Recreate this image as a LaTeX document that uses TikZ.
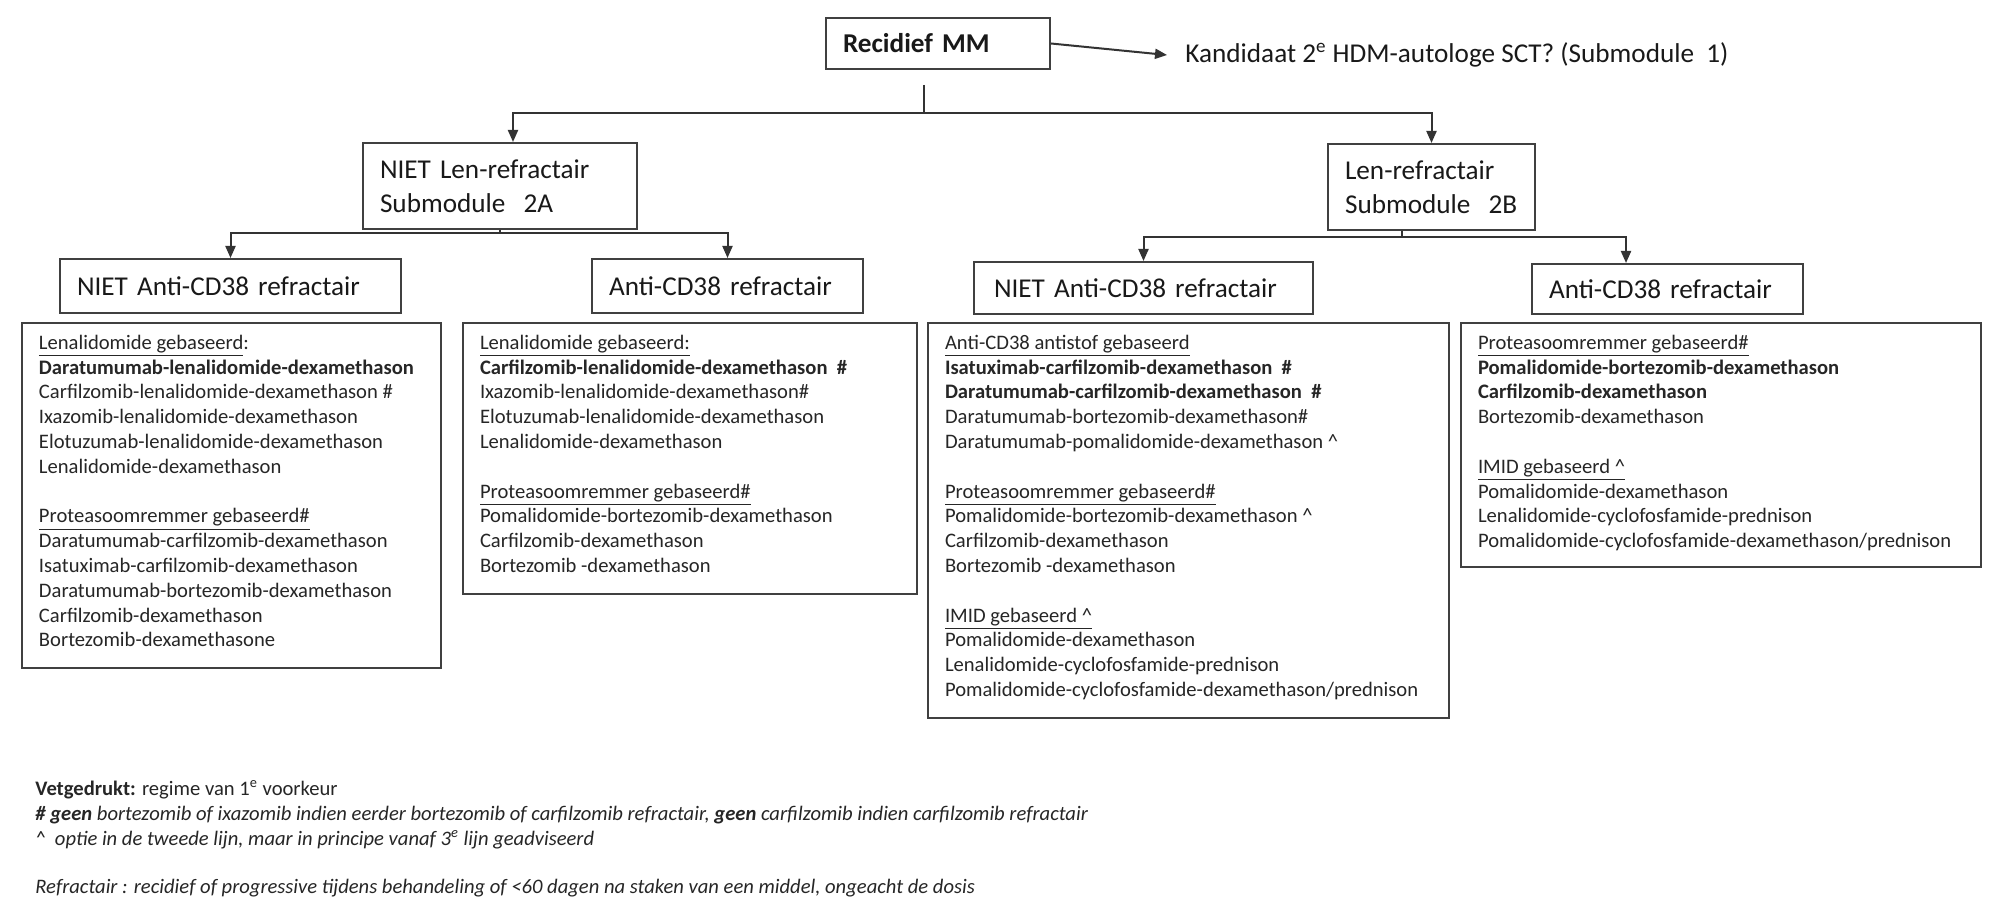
\documentclass[tikz,border=0pt]{standalone}
\usepackage{fontspec}
\setmainfont{Carlito}
\usetikzlibrary{arrows.meta,calc}
\newcommand\hdsize{\fontsize{13.6pt}{16.8pt}\selectfont}
\newcommand\bdsize{\fontsize{10.3pt}{12.4pt}\selectfont}
\newcommand\myul[1]{\underline{#1}}
\newcommand\caret{\textasciicircum}
\begin{document}
\begin{tikzpicture}[x=0.5pt,y=-0.5pt,
  line/.style={draw=black!80, line width=1pt},
  arr/.style={line, -{Triangle[length=6pt,width=5pt]}},
  hbox/.style={draw=black!75, line width=1pt, anchor=north west, align=left, inner xsep=8.5pt, inner ysep=0pt, font=\hdsize, text=black!90},
  cbox/.style={draw=black!75, line width=1pt, anchor=north west, inner xsep=8.5pt, inner ysep=6pt, font=\bdsize, text=black!85},
  foot/.style={anchor=base west, inner sep=0pt, font=\bdsize, text=black!85}
]
\useasboundingbox[fill=white] (0,0) rectangle (2000,919);

% header boxes
\node[hbox, text width=95pt, minimum height=25.5pt] (rec) at (825,17) {\textbf{Recidief MM}};
\node[anchor=west, inner xsep=9pt, inner ysep=0pt, font=\hdsize, text=black!90] (kand) at (1167,55)
  {Kandidaat 2\textsuperscript{e} HDM-autologe SCT? (Submodule\ \ 1)};
\node[hbox, text width=120pt, minimum height=43pt] (l2a) at (362,142) {NIET Len-refractair\\Submodule\ \ 2A};
\node[hbox, text width=86.5pt, minimum height=43pt] (l2b) at (1327,143) {Len-refractair\\Submodule\ \ 2B};
\node[hbox, text width=153.5pt, minimum height=27pt] (a1) at (59,258) {NIET Anti-CD38 refractair};
\node[hbox, text width=118.5pt, minimum height=27pt] (a2) at (591,258) {Anti-CD38 refractair};
\node[hbox, text width=149.5pt, minimum height=26pt, inner xsep=10pt] (a3) at (973,261) {NIET Anti-CD38 refractair};
\node[hbox, text width=118.5pt, minimum height=25pt] (a4) at (1531,263) {Anti-CD38 refractair};

% content boxes
\node[cbox] (b1) at (21,322) {\parbox[t][160.5pt][t]{192.5pt}{\raggedright
\myul{Lenalidomide gebaseerd}:\\
\textbf{Daratumumab-lenalidomide-dexamethason}\\
Carfilzomib-lenalidomide-dexamethason \#\\
Ixazomib-lenalidomide-dexamethason\\
Elotuzumab-lenalidomide-dexamethason\\
Lenalidomide-dexamethason\\[12.4pt]
\myul{Proteasoomremmer gebaseerd\#}\\
Daratumumab-carfilzomib-dexamethason\\
Isatuximab-carfilzomib-dexamethason\\
Daratumumab-bortezomib-dexamethason\\
Carfilzomib-dexamethason\\
Bortezomib-dexamethasone}};

\node[cbox] (b2) at (462,322) {\parbox[t][123.5pt][t]{210pt}{\raggedright
\myul{Lenalidomide gebaseerd:}\\
\textbf{Carfilzomib-lenalidomide-dexamethason\ \ \#}\\
Ixazomib-lenalidomide-dexamethason\#\\
Elotuzumab-lenalidomide-dexamethason\\
Lenalidomide-dexamethason\\[12.4pt]
\myul{Proteasoomremmer gebaseerd\#}\\
Pomalidomide-bortezomib-dexamethason\\
Carfilzomib-dexamethason\\
Bortezomib -dexamethason}};

\node[cbox] (b3) at (927,322) {\parbox[t][185.5pt][t]{243.5pt}{\raggedright
\myul{Anti-CD38 antistof gebaseerd}\\
\textbf{Isatuximab-carfilzomib-dexamethason\ \ \#}\\
\textbf{Daratumumab-carfilzomib-dexamethason\ \ \#}\\
Daratumumab-bortezomib-dexamethason\#\\
Daratumumab-pomalidomide-dexamethason \caret\\[12.4pt]
\myul{Proteasoomremmer gebaseerd\#}\\
Pomalidomide-bortezomib-dexamethason \caret\\
Carfilzomib-dexamethason\\
Bortezomib -dexamethason\\[12.4pt]
\myul{IMID gebaseerd \caret}\\
Pomalidomide-dexamethason\\
Lenalidomide-cyclofosfamide-prednison\\
Pomalidomide-cyclofosfamide-dexamethason/prednison}};

\node[cbox] (b4) at (1460,322) {\parbox[t][110pt][t]{243pt}{\raggedright
\myul{Proteasoomremmer gebaseerd\#}\\
\textbf{Pomalidomide-bortezomib-dexamethason}\\
\textbf{Carfilzomib-dexamethason}\\
Bortezomib-dexamethason\\[12.4pt]
\myul{IMID gebaseerd \caret}\\
Pomalidomide-dexamethason\\
Lenalidomide-cyclofosfamide-prednison\\
Pomalidomide-cyclofosfamide-dexamethason/prednison}};

% footer
\node[foot] (f1) at (35,795) {\textbf{Vetgedrukt:} regime van 1\textsuperscript{e} voorkeur};
\node[foot] (f2) at (35,820) {\itshape\textbf{\# geen} bortezomib of ixazomib indien eerder bortezomib of carfilzomib refractair, \textbf{geen} carfilzomib indien carfilzomib refractair};
\node[foot] (f3) at (35,845) {\itshape\caret\ \ optie in de tweede lijn, maar in principe vanaf 3\textsuperscript{e} lijn geadviseerd};
\node[foot] (f4) at (35,893) {\itshape Refractair : recidief of progressive tijdens behandeling of <60 dagen na staken van een middel, ongeacht de dosis};

% connectors
\draw[arr] (rec.east) -- (kand.west);
\coordinate (recstub) at (924,85);
\coordinate (trunk) at (924,113);
\draw[line] (recstub) -- (trunk);
\draw[arr] (trunk) -| ([xshift=6.5pt]l2a.north);
\draw[arr] (trunk) -| (l2b.north);
\draw[arr] (l2a.south) -- ++(0,3) -| (a1.north);
\draw[arr] (l2a.south) -- ++(0,3) -| (a2.north);
\coordinate (l2bout) at ([xshift=-15pt]l2b.south);
\draw[arr] (l2bout) -- ++(0,6) -| (a3.north);
\draw[arr] (l2bout) -- ++(0,6) -| ([xshift=-20.75pt]a4.north);
\end{tikzpicture}
\end{document}
